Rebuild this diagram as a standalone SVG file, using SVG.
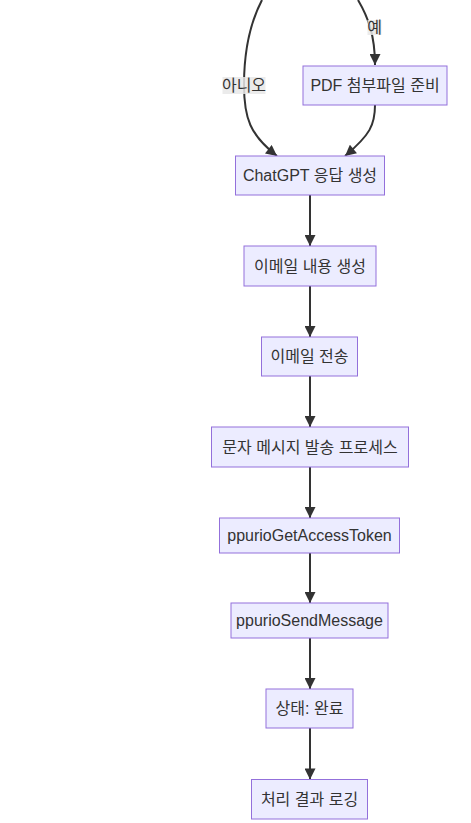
<svg xmlns="http://www.w3.org/2000/svg" width="471" height="823" viewBox="0 0 471 823">
<defs>
<style>
.node rect{fill:#ECECFF;stroke:#9370DB;stroke-width:1}
.node text,.lbl text{font-family:"Liberation Sans","Noto Sans CJK KR",sans-serif;font-size:16px;fill:#333333;text-anchor:middle;dominant-baseline:central}
.edge{fill:none;stroke:#333333;stroke-width:2;marker-end:url(#arrow)}
.lbl rect{fill:#e8e8e8;opacity:0.85}
</style>
<marker id="arrow" viewBox="0 0 10 10" refX="10" refY="5" markerUnits="userSpaceOnUse" markerWidth="12" markerHeight="11" orient="auto">
<path d="M0,0 L10,5 L0,10 z" fill="#333333"/>
</marker>
</defs>
<rect width="471" height="823" fill="#ffffff"/>
<g id="connectors">
<path class="edge" d="M262,0 C249,25 244,55 244,85 C244,118 250,135 277,156"/>
<path class="edge" d="M358,0 C368,17 375,35 375,65"/>
<path class="edge" d="M375,105 C375,125 370,135 345,156"/>
<path class="edge" d="M310,195 L310,246"/>
<path class="edge" d="M310,286 L310,337"/>
<path class="edge" d="M310,376 L310,427"/>
<path class="edge" d="M310,467 L310,518"/>
<path class="edge" d="M310,553 L310,603"/>
<path class="edge" d="M310,638 L310,689"/>
<path class="edge" d="M310,728 L310,779.5"/>
<g class="lbl" id="label-no"><rect x="222.5" y="77" width="43" height="17"/><text x="244" y="85.5">아니오</text></g>
<g class="lbl" id="label-yes"><rect x="367.5" y="20" width="14" height="15"/><text x="374.5" y="27.5">예</text></g>
</g>
<g class="node" id="pdf"><rect x="303" y="66" width="144" height="39"/><text x="375" y="85.5">PDF 첨부파일 준비</text></g>
<g class="node" id="chatgpt"><rect x="235.5" y="156" width="149" height="39"/><text x="310" y="175.5">ChatGPT 응답 생성</text></g>
<g class="node" id="emailContent"><rect x="244" y="246" width="132" height="40"/><text x="310" y="266">이메일 내용 생성</text></g>
<g class="node" id="emailSend"><rect x="261.5" y="337" width="96" height="39"/><text x="309.5" y="356.5">이메일 전송</text></g>
<g class="node" id="smsProcess"><rect x="211.5" y="427" width="197" height="40"/><text x="310" y="447">문자 메시지 발송 프로세스</text></g>
<g class="node" id="getToken"><rect x="219.5" y="518" width="180" height="35"/><text x="309.5" y="535.5">ppurioGetAccessToken</text></g>
<g class="node" id="sendMessage"><rect x="231" y="603" width="157" height="35"/><text x="309.5" y="620.5">ppurioSendMessage</text></g>
<g class="node" id="status"><rect x="266" y="689" width="87" height="39"/><text x="309.5" y="708.5">상태: 완료</text></g>
<g class="node" id="logging"><rect x="251.5" y="779.5" width="116" height="39.5"/><text x="309.5" y="799">처리 결과 로깅</text></g>
</svg>
